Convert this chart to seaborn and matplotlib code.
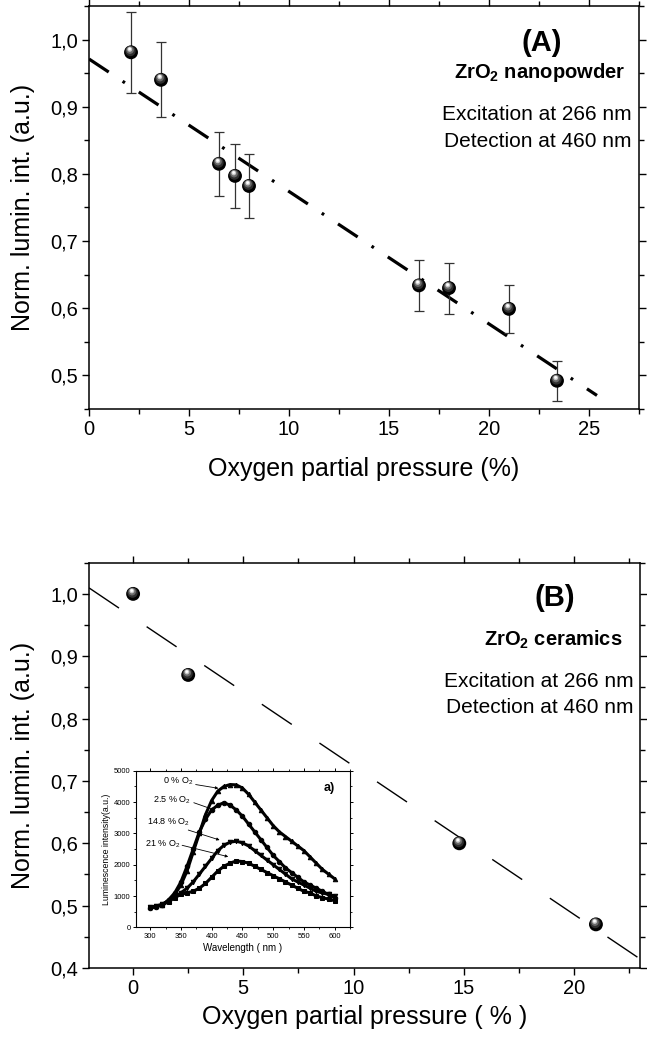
import numpy as np
import pandas as pd
import matplotlib
matplotlib.use("Agg")
import matplotlib.pyplot as plt
import seaborn as sns
from matplotlib.transforms import offset_copy
from matplotlib.ticker import MultipleLocator

# ---------------- data ----------------
# Panel A: ZrO2 nanopowder
a_o2 = [2.1, 3.6, 6.5, 7.3, 8.0, 16.5, 18.0, 21.0, 23.4]
a_int = [0.981, 0.940, 0.815, 0.797, 0.782, 0.634, 0.630, 0.599, 0.492]
a_err = [0.060, 0.056, 0.048, 0.048, 0.047, 0.038, 0.038, 0.036, 0.030]
a_fit_x = [0.0, 25.4]
a_fit_slope, a_fit_icpt = -0.01972, 0.971

# Panel B: ZrO2 ceramics
b_o2 = [0.0, 2.5, 14.8, 21.0]
b_int = [1.000, 0.870, 0.600, 0.470]
b_fit_x = [-2.0, 23.0]
b_fit_slope, b_fit_icpt = -0.0238, 0.962

# Inset spectra
wl = [300, 310, 320, 330, 340, 350, 360, 370, 380, 390, 400, 410, 420, 430, 440,
      450, 460, 470, 480, 490, 500, 510, 520, 530, 540, 550, 560, 570, 580, 590, 600]
sp_0 = [650, 680, 720, 850, 1050, 1350, 1800, 2400, 3000, 3600, 4050, 4350, 4500, 4560, 4550,
        4450, 4250, 4000, 3750, 3500, 3250, 3050, 2900, 2750, 2600, 2450, 2250, 2050, 1850, 1700, 1550]
sp_25 = [620, 650, 720, 880, 1100, 1450, 1950, 2500, 3050, 3450, 3750, 3900, 3980, 3900, 3750,
         3550, 3300, 3050, 2800, 2550, 2300, 2100, 1900, 1750, 1600, 1450, 1350, 1250, 1150, 1050, 950]
sp_148 = [640, 680, 740, 850, 980, 1100, 1250, 1450, 1700, 1950, 2200, 2450, 2620, 2720, 2750,
          2700, 2600, 2450, 2300, 2150, 2000, 1850, 1700, 1550, 1450, 1350, 1250, 1150, 1100, 1050, 1000]
sp_21 = [640, 680, 720, 820, 950, 1050, 1100, 1150, 1250, 1400, 1600, 1800, 1950, 2050, 2120,
         2100, 2050, 1950, 1850, 1750, 1650, 1550, 1450, 1350, 1250, 1150, 1100, 1000, 950, 900, 850]
sp_labels = ["0 % O$_2$", "2.5 % O$_2$", "14.8 % O$_2$", "21 % O$_2$"]

xlabel_a = "Oxygen partial pressure (%)"
xlabel_b = "Oxygen partial pressure ( % )"
ylabel = "Norm. lumin. int. (a.u.)"
a_yticks = [0.5, 0.6, 0.7, 0.8, 0.9, 1.0]
b_yticks = [0.4, 0.5, 0.6, 0.7, 0.8, 0.9, 1.0]

# ---------------- style ----------------
sns.set_theme(style="ticks")
plt.rcParams["font.family"] = ["Liberation Sans", "DejaVu Sans"]
plt.rcParams["mathtext.fontset"] = "custom"
plt.rcParams["mathtext.rm"] = "Liberation Sans"
plt.rcParams["mathtext.bf"] = "Liberation Sans:bold"
plt.rcParams["mathtext.it"] = "Liberation Sans:italic"
plt.rcParams["lines.scale_dashes"] = False
plt.rcParams["axes.linewidth"] = 1.1
plt.rcParams["text.color"] = "black"
plt.rcParams["axes.labelcolor"] = "black"
plt.rcParams["xtick.color"] = "black"
plt.rcParams["ytick.color"] = "black"
plt.rcParams["axes.edgecolor"] = "black"

fig = plt.figure(figsize=(6.47, 10.43), dpi=100)
ax1 = fig.add_axes([0.1376, 0.6079, 0.8500, 0.3864])
ax2 = fig.add_axes([0.1376, 0.0719, 0.8516, 0.3886])
axin = fig.add_axes([0.2102, 0.1109, 0.3308, 0.1501])


def comma(v, pos=None):
    return f"{v:.1f}".replace(".", ",")


def spheres(ax, x, y, s=100):
    sns.scatterplot(x=x, y=y, ax=ax, color="black", s=s, edgecolor="none",
                    zorder=4, legend=False)
    for frac, col, dx, dy in [(0.55, "#2e2e2e", -0.4, 0.9),
                              (0.30, "#6a6a6a", -0.7, 1.6),
                              (0.12, "#c8c8c8", -0.9, 2.1),
                              (0.04, "#ffffff", -1.0, 2.4)]:
        tr = offset_copy(ax.transData, fig=fig, x=dx, y=dy, units="points")
        ax.scatter(x, y, s=s * frac, color=col, edgecolor="none",
                   transform=tr, zorder=5)


def style_main(ax, xlim, ylim, yticks):
    ax.set_xlim(*xlim)
    ax.set_ylim(*ylim)
    ax.xaxis.set_major_locator(MultipleLocator(5))
    ax.xaxis.set_minor_locator(MultipleLocator(2.5))
    ax.set_yticks(yticks)
    ax.yaxis.set_minor_locator(MultipleLocator(0.05))
    ax.yaxis.set_major_formatter(plt.FuncFormatter(comma))
    for s in ax.spines.values():
        s.set_visible(True)
        s.set_linewidth(1.1)
        s.set_color("black")
    ax.tick_params(axis="both", which="major", direction="out", length=5,
                   width=1.0, labelsize=14.5, colors="black", pad=3)
    ax.tick_params(axis="both", which="minor", direction="out", length=3.5,
                   width=1.0, colors="black")
    ax.tick_params(axis="x", which="both", top=True, labeltop=False)
    ax.tick_params(axis="y", which="both", right=True, labelright=False)
    ax.grid(False)


# ---------------- panel A ----------------
ax1.errorbar(a_o2, a_int, yerr=a_err, fmt="none", ecolor="#333333",
             elinewidth=0.9, capsize=3.5, capthick=0.9, zorder=3)
a_fit_y = [a_fit_icpt + a_fit_slope * v for v in a_fit_x]
sns.lineplot(x=a_fit_x, y=a_fit_y, ax=ax1, color="black", lw=2.3, zorder=2)
ax1.lines[-1].set_dashes([17, 12, 2, 12])
spheres(ax1, a_o2, a_int)
style_main(ax1, (0, 27.5), (0.45, 1.05), a_yticks)
ax1.set_xlabel(xlabel_a, fontsize=18)
ax1.set_ylabel(ylabel, fontsize=18)
ax1.xaxis.set_label_coords(0.5, -0.118)
ax1.yaxis.set_label_coords(-0.098, 0.5)
ax1.text(0.824, 0.908, "(A)", transform=ax1.transAxes, ha="center", va="center",
         fontsize=21, fontweight="bold")
ax1.text(0.820, 0.834, r"ZrO$_\mathbf{2}$ nanopowder", transform=ax1.transAxes,
         ha="center", va="center", fontsize=14.5, fontweight="bold")
ax1.text(0.987, 0.730, "Excitation at 266 nm", transform=ax1.transAxes,
         ha="right", va="center", fontsize=15)
ax1.text(0.987, 0.663, "Detection at 460 nm", transform=ax1.transAxes,
         ha="right", va="center", fontsize=15)

# ---------------- panel B ----------------
b_fit_y = [b_fit_icpt + b_fit_slope * v for v in b_fit_x]
sns.lineplot(x=b_fit_x, y=b_fit_y, ax=ax2, color="black", lw=1.0, zorder=2)
ax2.lines[-1].set_dashes([26, 24])
spheres(ax2, b_o2, b_int)
style_main(ax2, (-2, 23), (0.4, 1.05), b_yticks)
ax2.set_xlabel(xlabel_b, fontsize=18)
ax2.set_ylabel(ylabel, fontsize=18)
ax2.xaxis.set_label_coords(0.5, -0.092)
ax2.yaxis.set_label_coords(-0.098, 0.5)
ax2.text(0.846, 0.914, "(B)", transform=ax2.transAxes, ha="center", va="center",
         fontsize=21, fontweight="bold")
ax2.text(0.842, 0.810, r"ZrO$_\mathbf{2}$ ceramics", transform=ax2.transAxes,
         ha="center", va="center", fontsize=14.5, fontweight="bold")
ax2.text(0.989, 0.706, "Excitation at 266 nm", transform=ax2.transAxes,
         ha="right", va="center", fontsize=15)
ax2.text(0.989, 0.642, "Detection at 460 nm", transform=ax2.transAxes,
         ha="right", va="center", fontsize=15)

# ---------------- inset ----------------
for ys, mk in zip([sp_0, sp_25, sp_148, sp_21], ["^", "o", "v", "s"]):
    sns.lineplot(x=wl, y=ys, ax=axin, color="black", lw=2.2, marker=mk,
                 markersize=3.2, markeredgecolor="black", zorder=3)
axin.set_xlim(277, 625)
axin.set_ylim(0, 5000)
axin.xaxis.set_major_locator(MultipleLocator(50))
axin.xaxis.set_minor_locator(MultipleLocator(25))
axin.yaxis.set_major_locator(MultipleLocator(1000))
axin.yaxis.set_minor_locator(MultipleLocator(500))
for s in axin.spines.values():
    s.set_visible(True)
    s.set_linewidth(0.8)
    s.set_color("black")
axin.tick_params(axis="both", which="major", direction="out", length=2.5,
                 width=0.7, labelsize=5.5, pad=1.5, colors="black")
axin.tick_params(axis="both", which="minor", direction="out", length=1.5,
                 width=0.6, colors="black")
axin.tick_params(axis="x", which="both", top=True)
axin.tick_params(axis="y", which="both", right=True)
axin.set_xlabel("Wavelength ( nm )", fontsize=7, labelpad=2)
axin.set_ylabel("Luminescence intensity(a.u.)", fontsize=6.3, labelpad=2)
axin.grid(False)
axin.set_facecolor("white")

ann_text = [(370, 4650), (366, 4065), (365, 3372), (349, 2650)]
ann_from = [(374, 4560), (371, 3980), (362, 3107), (352, 2620)]
ann_to = [(411, 4440), (405, 3745), (413, 2788), (427, 2255)]
for lab, tpos, fpos, tip in zip(sp_labels, ann_text, ann_from, ann_to):
    axin.text(tpos[0], tpos[1], lab, fontsize=6.5, ha="right", va="center")
    axin.annotate("", xy=tip, xytext=fpos,
                  arrowprops=dict(arrowstyle="-|>", lw=0.6, color="black",
                                  mutation_scale=4, shrinkA=0, shrinkB=0))
axin.text(592, 4450, "a)", fontsize=9, fontweight="bold", ha="center", va="center")

fig.savefig("out.png", dpi=100, facecolor="white")
